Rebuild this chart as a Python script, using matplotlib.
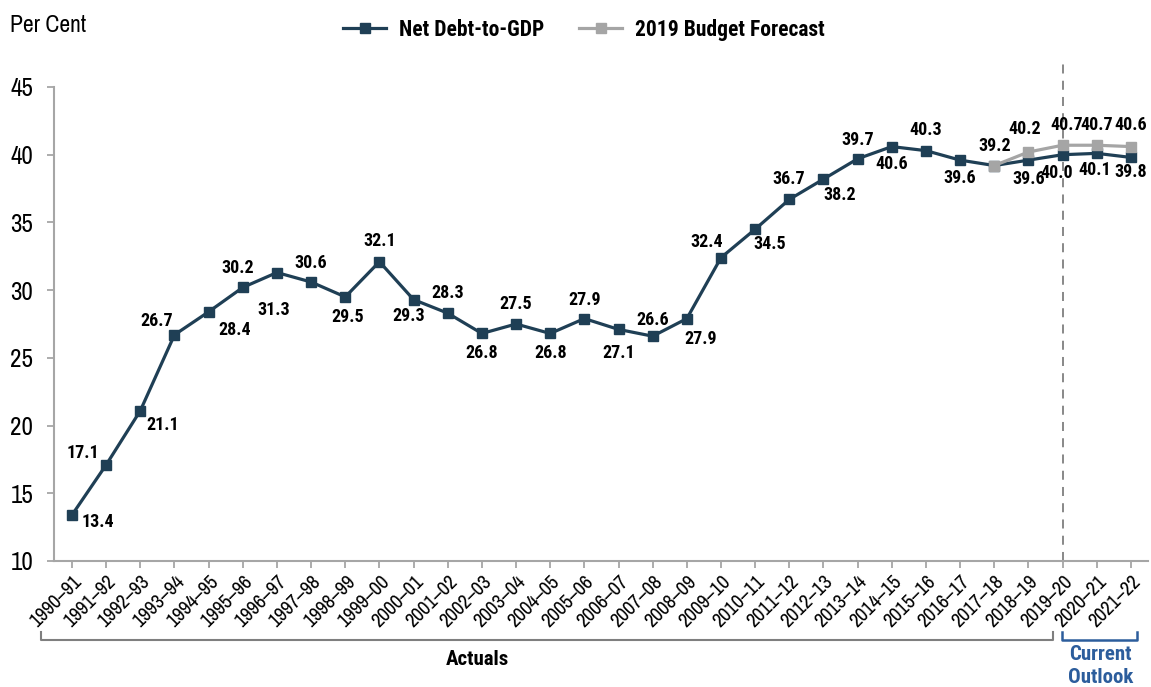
import matplotlib
matplotlib.use("Agg")
import matplotlib.pyplot as plt
import matplotlib.transforms as mtransforms

years = ["1990–91", "1991–92", "1992–93", "1993–94", "1994–95", "1995–96",
         "1996–97", "1997–98", "1998–99", "1999–00", "2000–01", "2001–02",
         "2002–03", "2003–04", "2004–05", "2005–06", "2006–07", "2007–08",
         "2008–09", "2009–10", "2010–11", "2011–12", "2012–13", "2013–14",
         "2014–15", "2015–16", "2016–17", "2017–18", "2018–19", "2019–20",
         "2020–21", "2021–22"]
net_debt = [13.4, 17.1, 21.1, 26.7, 28.4, 30.2, 31.3, 30.6, 29.5, 32.1,
            29.3, 28.3, 26.8, 27.5, 26.8, 27.9, 27.1, 26.6, 27.9, 32.4,
            34.5, 36.7, 38.2, 39.7, 40.6, 40.3, 39.6, 39.2, 39.6, 40.0,
            40.1, 39.8]
# 2019 Budget forecast starts at 2017-18
forecast_start = 27
budget_2019 = [39.2, 40.2, 40.7, 40.7, 40.6]

# label offsets in pixels (dx, dy), dy positive = up
debt_offsets = [(26, -7), (-23, 12), (22, -14), (-18, 14), (26, -18), (-5, 19),
                (-3, -37), (0, 19), (2, -20), (0, 21), (-5, -16), (0, 20),
                (0, -20), (0, 20), (0, -20), (0, 19), (0, -24), (0, 16),
                (14, -20), (-14, 16), (15, -15), (-1, 20), (16, -16), (0, 19),
                (0, -17), (0, 21), (0, -18), None, (0, -19), (-6, -18),
                (-2, -17), (0, -15)]
budget_offsets = [(0, 20), (-4, 23), (4, 20), (0, 20), (0, 22)]

DARK = "#1f3f55"
GREY = "#a5a5a5"
AXIS = "#a6a6a6"
BLUE = "#2c5d9c"

NARROW = ["Archivo Narrow", "Liberation Sans", "DejaVu Sans"]
BOLD_NARROW = ["Roboto Condensed", "Saira SemiCondensed", "Archivo Narrow",
               "DejaVu Sans"]
plt.rcParams["font.family"] = NARROW

fig = plt.figure(figsize=(11.51, 6.87), dpi=100)
ax = fig.add_axes([54 / 1151, 1 - 561 / 687, (1148 - 54) / 1151, (561 - 87) / 687])

x = list(range(len(years)))
fx = x[forecast_start:]

ax.plot(x, net_debt, color=DARK, lw=2.3, marker="s", ms=7.5,
        label="Net Debt-to-GDP", zorder=3)
ax.plot(fx, budget_2019, color=GREY, lw=2.3, marker="s", ms=7.5,
        label="2019 Budget Forecast", zorder=4)

label_font = dict(fontsize=13, fontweight="bold", family=BOLD_NARROW,
                  ha="center", va="center", color="black")
for xi, v, off in zip(x, net_debt, debt_offsets):
    if off is None:
        continue
    ax.annotate(f"{v:.1f}", (xi, v), xytext=off, textcoords="offset pixels",
                **label_font)
for xi, v, off in zip(fx, budget_2019, budget_offsets):
    ax.annotate(f"{v:.1f}", (xi, v), xytext=off, textcoords="offset pixels",
                **label_font)

ax.set_xlim(-0.527, 31.5)
ax.set_ylim(10, 45)
ax.set_yticks(range(10, 50, 5))
ax.set_xticks(x)
ax.set_xticklabels(years, rotation=45, ha="right", rotation_mode="anchor",
                   fontsize=14.5)
ax.tick_params(axis="y", labelsize=18, length=5, color=AXIS, width=1.3, pad=10)
ax.tick_params(axis="x", length=5, color=AXIS, width=1.3, pad=3)
for side in ["top", "right"]:
    ax.spines[side].set_visible(False)
for side in ["left", "bottom"]:
    ax.spines[side].set_color(AXIS)
    ax.spines[side].set_linewidth(1.5)

# start of the current outlook
ax.axvline(29, ymin=0, ymax=1.053, color="#7f7f7f", lw=1.3,
           ls=(0, (5, 4)), clip_on=False, zorder=1)

fig.text(10 / 1151, 1 - 25 / 687, "Per Cent", fontsize=17, va="center")

leg = fig.legend(loc="center", bbox_to_anchor=(584 / 1151, 1 - 30 / 687),
                 ncol=2, frameon=False, handlelength=2.0, columnspacing=1.6,
                 handletextpad=0.6,
                 prop=dict(size=15.5, weight="bold", family=BOLD_NARROW))

# brackets under the category axis
trans = mtransforms.blended_transform_factory(ax.transData, ax.transAxes)
y_low, y_high = -0.1667, -0.150
ax.plot([-0.91, -0.91, 28.72, 28.72], [y_high, y_low, y_low, y_high],
        color="#7f7f7f", lw=1.5, transform=trans, clip_on=False)
ax.plot([28.98, 28.98, 31.18, 31.18], [y_high, y_low, y_low, y_high],
        color=BLUE, lw=1.8, transform=trans, clip_on=False)
ax.text(11.86, -0.207, "Actuals", transform=trans, ha="center", va="center",
        fontsize=15, fontweight="bold", family=BOLD_NARROW)
ax.text(30.12, -0.2215, "Current\nOutlook", transform=trans, ha="center",
        va="center", fontsize=15, fontweight="bold", family=BOLD_NARROW,
        color=BLUE, linespacing=1.3)

fig.savefig("out.png", dpi=100)
